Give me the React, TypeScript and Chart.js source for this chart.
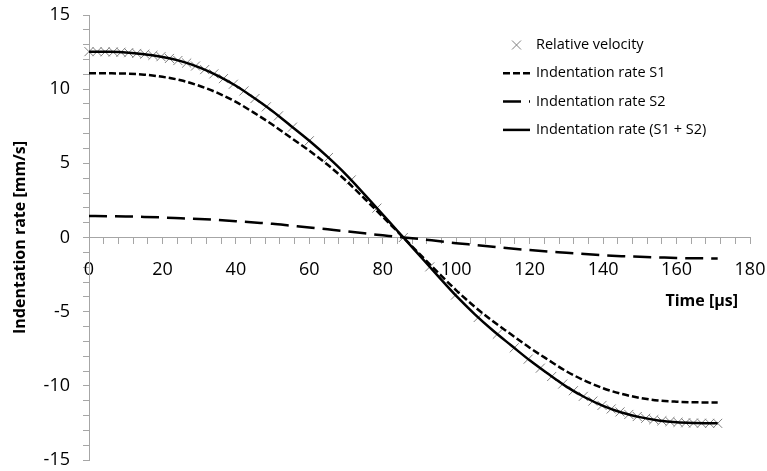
import React, { useEffect, useRef } from 'react';
import { Chart, registerables } from 'chart.js';

Chart.register(...registerables);

// ---- data ----
const timeUs = [0, 5, 10, 15, 20, 25, 30, 35, 40, 45, 50, 55, 60, 65, 70, 75, 80, 85, 90, 95, 100, 105, 110, 115, 120, 125, 130, 135, 140, 145, 150, 155, 160, 165, 170, 171.2];

const rateSum = [12.53, 12.52, 12.48, 12.36, 12.17, 11.89, 11.47, 10.92, 10.23, 9.40, 8.51, 7.52, 6.52, 5.43, 4.24, 2.91, 1.54, 0.17, -1.21, -2.59, -3.94, -5.16, -6.27, -7.28, -8.28, -9.19, -10.05, -10.77, -11.35, -11.80, -12.11, -12.33, -12.46, -12.51, -12.53, -12.53];

const rateS2 = [1.45, 1.44, 1.42, 1.39, 1.35, 1.30, 1.25, 1.18, 1.10, 1.01, 0.92, 0.80, 0.68, 0.55, 0.42, 0.28, 0.15, 0.02, -0.10, -0.24, -0.38, -0.50, -0.62, -0.74, -0.85, -0.95, -1.03, -1.12, -1.20, -1.26, -1.30, -1.34, -1.38, -1.40, -1.41, -1.41];

const rateS1 = [11.08, 11.07, 11.05, 10.98, 10.83, 10.60, 10.23, 9.75, 9.14, 8.40, 7.60, 6.72, 5.85, 4.90, 3.83, 2.63, 1.39, 0.15, -1.11, -2.35, -3.56, -4.66, -5.65, -6.54, -7.43, -8.24, -9.02, -9.65, -10.16, -10.54, -10.81, -10.99, -11.07, -11.11, -11.12, -11.12];

const velTimes = [0, 2.2, 4.4, 6.6, 8.7, 10.8, 13.0, 15.2, 17.4, 19.6, 21.9, 24.2, 26.6, 29.0, 31.5, 34.0, 36.6, 39.3, 42.2, 45.2, 48.3, 51.6, 55.4, 60.0, 65.2, 71.4, 78.4, 85.6, 92.8, 99.8, 106.0, 111.2, 115.8, 119.6, 122.9, 126.0, 129.0, 131.9, 134.6, 137.2, 139.7, 142.2, 144.6, 147.0, 149.3, 151.6, 153.8, 156.0, 158.2, 160.4, 162.5, 164.6, 166.8, 169.0, 171.2];

const velValues = [12.53, 12.53, 12.52, 12.51, 12.49, 12.46, 12.41, 12.36, 12.28, 12.19, 12.07, 11.93, 11.76, 11.56, 11.32, 11.03, 10.71, 10.33, 9.88, 9.37, 8.81, 8.20, 7.44, 6.52, 5.39, 3.88, 1.98, 0.00, -1.98, -3.88, -5.39, -6.52, -7.44, -8.20, -8.81, -9.37, -9.88, -10.33, -10.71, -11.03, -11.32, -11.56, -11.76, -11.93, -12.07, -12.19, -12.28, -12.36, -12.41, -12.46, -12.49, -12.51, -12.52, -12.53, -12.53];

const seriesLabels = ['Relative velocity', 'Indentation rate S1', 'Indentation rate S2', 'Indentation rate (S1 + S2)'];
const xTitle = 'Time [µs]';
const yTitle = 'Indentation rate [mm/s]';
const xRange = [0, 180];
const yRange = [-15, 15];
const xMinorStep = 4;
const xLabelStep = 20;
const yMinorStep = 1;
const yLabelStep = 5;

const FONT = "'Open Sans', 'DejaVu Sans', sans-serif";
const AXIS_GRAY = '#a6a6a6';
const MARKER_GRAY = '#7f7f7f';

const overlayPlugin = {
  id: 'overlay',
  afterDraw(chart: any) {
    const ctx = chart.ctx as CanvasRenderingContext2D;
    const area = chart.chartArea;
    const yScale = chart.scales.y;
    ctx.save();
    // x-axis title
    ctx.fillStyle = '#000';
    ctx.font = `bold 16px ${FONT}`;
    ctx.textAlign = 'right';
    ctx.textBaseline = 'middle';
    ctx.fillText(xTitle, area.right - 12, yScale.getPixelForValue(0) + 64);

    // legend
    const x0 = 503;
    const x1 = 530;
    const textX = 536;
    const top = 45;
    const gap = 28.3;
    ctx.font = `14.5px ${FONT}`;
    ctx.textAlign = 'left';
    chart.data.datasets.forEach((ds: any, i: number) => {
      const y = top + i * gap;
      if (ds.showLine === false) {
        const h = 4.5;
        const cx = (x0 + x1) / 2;
        ctx.strokeStyle = ds.pointBorderColor;
        ctx.lineWidth = 1;
        ctx.setLineDash([]);
        ctx.beginPath();
        ctx.moveTo(cx - h, y - h);
        ctx.lineTo(cx + h, y + h);
        ctx.moveTo(cx + h, y - h);
        ctx.lineTo(cx - h, y + h);
        ctx.stroke();
      } else {
        ctx.strokeStyle = ds.borderColor;
        ctx.lineWidth = ds.borderWidth;
        ctx.setLineDash(ds.borderDash || []);
        ctx.lineCap = 'butt';
        ctx.beginPath();
        ctx.moveTo(x0, y);
        ctx.lineTo(x1, y);
        ctx.stroke();
      }
      ctx.setLineDash([]);
      ctx.fillStyle = '#000';
      ctx.fillText(ds.label, textX, y);
    });
    ctx.restore();
  },
};

export default function App() {
  const ref = useRef<HTMLCanvasElement>(null);

  useEffect(() => {
    document.body.style.margin = '0';
    const pts = (xs: number[], ys: number[]) => xs.map((x, i) => ({ x, y: ys[i] }));
    const chart = new Chart(ref.current as HTMLCanvasElement, {
      type: 'line',
      data: {
        datasets: [
          {
            label: seriesLabels[0],
            data: pts(velTimes, velValues),
            showLine: false,
            pointStyle: 'crossRot',
            pointRadius: 6.4,
            pointBorderWidth: 1,
            pointBorderColor: MARKER_GRAY,
            borderColor: MARKER_GRAY,
            clip: false,
            order: 3,
          },
          {
            label: seriesLabels[1],
            data: pts(timeUs, rateS1),
            borderColor: '#000',
            borderWidth: 2.5,
            borderDash: [7, 3],
            pointRadius: 0,
            cubicInterpolationMode: 'monotone',
            order: 1,
          },
          {
            label: seriesLabels[2],
            data: pts(timeUs, rateS2),
            borderColor: '#000',
            borderWidth: 2.5,
            borderDash: [18, 8],
            pointRadius: 0,
            cubicInterpolationMode: 'monotone',
            order: 2,
          },
          {
            label: seriesLabels[3],
            data: pts(timeUs, rateSum),
            borderColor: '#000',
            borderWidth: 2.5,
            pointRadius: 0,
            cubicInterpolationMode: 'monotone',
            order: 0,
          },
        ] as any,
      },
      options: {
        responsive: false,
        animation: false,
        events: [],
        layout: { padding: { top: 15, right: 17, bottom: 11, left: 0 } },
        plugins: {
          legend: { display: false },
          tooltip: { enabled: false },
        },
        scales: {
          x: {
            type: 'linear',
            min: xRange[0],
            max: xRange[1],
            position: { y: 0 } as any,
            afterFit: (s: any) => {
              s.height = 0;
              s.paddingLeft = 0;
              s.paddingRight = 0;
              s.paddingTop = 0;
              s.paddingBottom = 0;
            },
            ticks: {
              stepSize: xMinorStep,
              autoSkip: false,
              maxRotation: 0,
              padding: 16,
              color: '#000',
              font: { family: FONT, size: 18 },
              callback: (v: any) => (Number(v) % xLabelStep === 0 ? String(v) : ''),
            },
            grid: { drawOnChartArea: false, tickLength: 6, color: AXIS_GRAY },
            border: { color: AXIS_GRAY, width: 1 },
          },
          y: {
            type: 'linear',
            min: yRange[0],
            max: yRange[1],
            afterFit: (s: any) => {
              s.width = 89;
              s.paddingTop = 0;
              s.paddingBottom = 0;
            },
            ticks: {
              stepSize: yMinorStep,
              autoSkip: false,
              padding: 13,
              color: '#000',
              font: { family: FONT, size: 18 },
              callback: (v: any) => (Number(v) % yLabelStep === 0 ? String(v) : ''),
            },
            grid: { drawOnChartArea: false, tickLength: 6, color: AXIS_GRAY },
            border: { color: AXIS_GRAY, width: 1 },
            title: {
              display: true,
              text: yTitle,
              color: '#000',
              font: { family: FONT, size: 16, weight: 'bold' },
              padding: { top: 11, bottom: 0 },
            },
          },
        },
      },
      plugins: [overlayPlugin],
    });
    return () => chart.destroy();
  }, []);

  return (
    <div style={{ width: 767, height: 471 }}>
      <canvas ref={ref} width={767} height={471} style={{ display: 'block' }} />
    </div>
  );
}
